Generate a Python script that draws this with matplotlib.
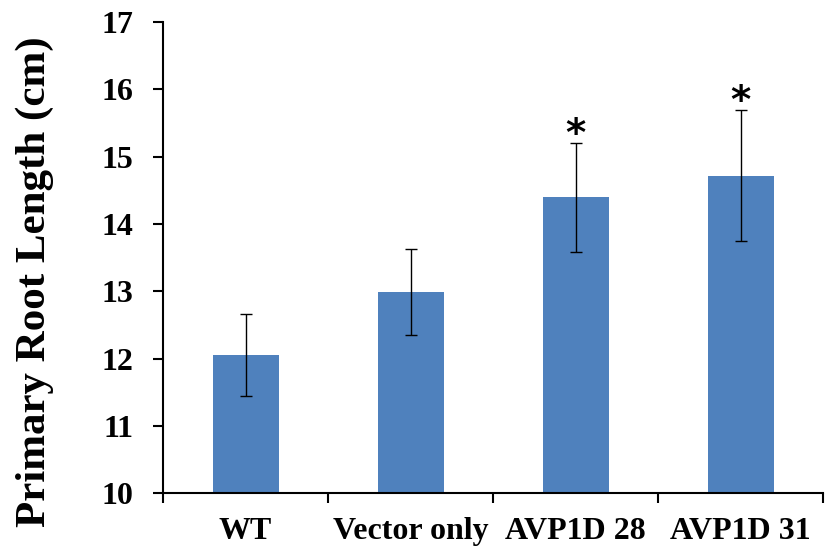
import matplotlib
matplotlib.use("Agg")
from matplotlib import pyplot as plt

categories = ['WT', 'Vector only', 'AVP1D 28', 'AVP1D 31']
root_length = [12.05, 12.99, 14.40, 14.72]
root_length_err = [0.61, 0.64, 0.81, 0.98]
significant = [False, False, True, True]
y_ticks = [10, 11, 12, 13, 14, 15, 16, 17]

plt.rcParams['font.family'] = 'Liberation Serif'
plt.rcParams['font.weight'] = 'bold'

fig = plt.figure(figsize=(8.25, 5.54), dpi=100)
ax = fig.add_axes([0.1976, 0.110, 0.800, 0.850])

positions = list(range(len(categories)))
ax.bar(positions, root_length, width=0.4, color='#4F81BD', zorder=2)
ax.errorbar(positions, root_length, yerr=root_length_err, fmt='none',
            ecolor='black', elinewidth=1, capsize=4.5, capthick=1, zorder=3)

for x, value, err, star in zip(positions, root_length, root_length_err, significant):
    if star:
        ax.text(x, value + err + 0.11, '*', ha='center', va='center',
                fontsize=28, fontweight='bold', family='DejaVu Sans')

ax.set_xlim(-0.5, 3.5)
ax.set_ylim(10, 17)
ax.set_yticks(y_ticks)
ax.set_yticklabels([str(t) for t in y_ticks], fontsize=23, fontweight='bold')
ax.set_xticks(positions)
ax.set_xticklabels(categories, fontsize=23, fontweight='bold')
ax.set_xticks([-0.5, 0.5, 1.5, 2.5, 3.5], minor=True)
ax.tick_params(axis='x', which='major', length=0, pad=17)
ax.tick_params(axis='x', which='minor', length=7.5, width=1.5, direction='out')
ax.tick_params(axis='y', length=7.5, width=1.5, direction='out', pad=14)

ax.set_ylabel('Primary Root Length (cm)', fontsize=31, fontweight='bold', labelpad=34)
ax.yaxis.label.set_y(0.448)

for side in ['top', 'right']:
    ax.spines[side].set_visible(False)
for side in ['left', 'bottom']:
    ax.spines[side].set_linewidth(1.5)

fig.savefig('out.png', dpi=100)
